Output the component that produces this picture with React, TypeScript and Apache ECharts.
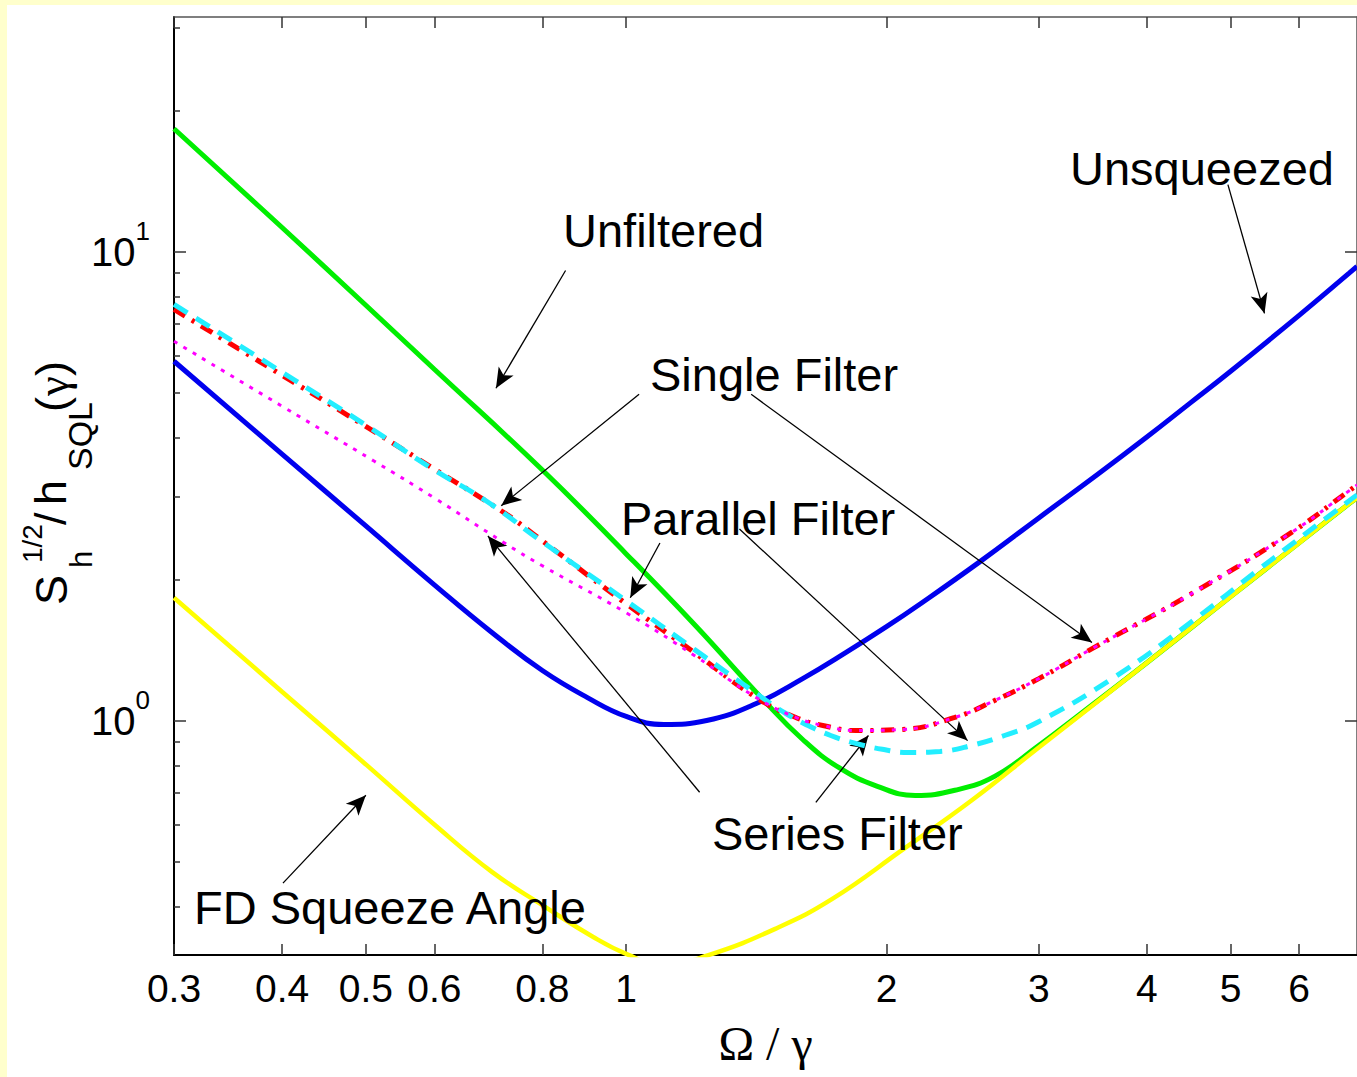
import React, { useEffect, useRef } from "react";
import * as echarts from "echarts";

// ---- axis ranges & ticks (real values, log axes) ----
const xMinVal = 0.3;
const xMaxVal = 7;
const yMinVal = Math.pow(10, -0.5);
const yMaxVal = Math.pow(10, 1.5);
const xTickValues = [0.3, 0.4, 0.5, 0.6, 0.8, 1, 2, 3, 4, 5, 6];
const yMajorTicks = [1, 10];
const yMinorTicks = [0.4, 0.5, 0.6, 0.7, 0.8, 0.9, 2, 3, 4, 5, 6, 7, 8, 9, 20, 30];

// ---- series (Omega/gamma, S_h^1/2 / h_SQL) ----
const unsqueezedOmega = [0.3, 0.4, 0.5, 0.6, 0.7, 0.8, 0.902, 1.0, 1.106, 1.239, 1.414, 1.6, 1.794, 2.0, 2.198, 2.563, 3.0, 3.501, 4.0, 4.488, 5.0, 6.0, 6.85, 7];
const unsqueezedNoise = [5.834, 3.699, 2.599, 1.947, 1.539, 1.278, 1.119, 1.02, 0.981, 1.0, 1.087, 1.228, 1.395, 1.585, 1.783, 2.179, 2.704, 3.337, 4.021, 4.75, 5.554, 7.31, 8.98, 9.291];

const unfilteredOmega = [0.3, 0.4, 0.5, 0.6, 0.8, 1.0, 1.2, 1.44, 1.6, 1.761, 1.952, 2.159, 2.399, 2.667, 3.0, 3.357, 4.0, 5.0, 6.0, 6.85, 7];
const unfilteredNoise = [18.27, 11.25, 7.68, 5.61, 3.42, 2.266, 1.6, 1.108, 0.911, 0.794, 0.724, 0.692, 0.71, 0.76, 0.884, 1.035, 1.328, 1.837, 2.392, 2.897, 2.982];

const fdOmega = [0.3, 0.4, 0.5, 0.6, 0.7, 0.8, 0.917, 1.0, 1.1, 1.245, 1.499, 1.733, 2.084, 2.51, 3.0, 3.357, 4.0, 5.0, 6.0, 6.85, 7];
const fdNoise = [1.827, 1.152, 0.806, 0.6, 0.475, 0.404, 0.345, 0.318, 0.301, 0.316, 0.362, 0.417, 0.529, 0.676, 0.876, 1.03, 1.328, 1.837, 2.392, 2.897, 2.982];

const singleOmega = [0.3, 0.4, 0.5, 0.6, 0.689, 0.8, 1.0, 1.2, 1.452, 1.53, 1.613, 1.724, 1.842, 1.978, 2.119, 2.306, 2.51, 2.738, 2.987, 3.662, 4.524, 5.401, 6.85, 7];
const singleNoise = [7.714, 5.528, 4.264, 3.42, 2.938, 2.404, 1.8, 1.416, 1.103, 1.035, 0.981, 0.929, 0.894, 0.868, 0.855, 0.859, 0.885, 0.929, 0.99, 1.234, 1.633, 2.106, 2.938, 3.026];

const parallelOmega = [0.3, 0.4, 0.468, 0.6, 0.726, 0.8, 1.0, 1.2, 1.414, 1.571, 1.688, 1.842, 2.084, 2.399, 2.667, 3.0, 3.474, 4.524, 5.893, 6.85, 7];
const parallelNoise = [7.527, 5.447, 4.567, 3.437, 2.757, 2.415, 1.774, 1.395, 1.119, 1.015, 0.976, 0.952, 0.957, 1.015, 1.103, 1.228, 1.43, 1.872, 2.524, 3.086, 3.178];

const seriesOmega = [0.3, 0.4, 0.511, 0.6, 0.726, 0.8, 1.0, 1.2, 1.414, 1.571, 1.688, 1.842, 2.084, 2.399, 2.667, 3.0, 3.474, 4.524, 5.893, 6.85, 7];
const seriesNoise = [6.435, 4.679, 3.574, 2.982, 2.38, 2.137, 1.697, 1.375, 1.119, 1.015, 0.976, 0.952, 0.957, 1.015, 1.103, 1.228, 1.43, 1.872, 2.524, 3.086, 3.178];

// ---- annotation arrows: [fromOmega, fromNoise, toOmega, toNoise] ----
const arrows = [
  [0.851, 9.11, 0.707, 5.11],
  [1.035, 4.96, 0.717, 2.87],
  [1.395, 4.96, 3.456, 1.466],
  [1.094, 2.39, 1.011, 1.827],
  [1.352, 2.56, 2.482, 0.906],
  [1.216, 0.703, 0.692, 2.475],
  [1.657, 0.669, 1.906, 0.929],
  [0.401, 0.45, 0.5, 0.693],
  [4.964, 13.89, 5.472, 7.38],
];

const annotationTexts = ["Unfiltered", "Single Filter", "Parallel Filter", "Series Filter", "FD Squeeze Angle", "Unsqueezed"];

const L = (v: number) => Math.log10(v);
const pts = (xs: number[], ys: number[]) => xs.map((x, i) => [L(x), L(ys[i])]);

const SANS = '"Liberation Sans", Arial, Helvetica, sans-serif';
const SERIF = '"Liberation Serif", "Times New Roman", serif';

export default function App() {
  const ref = useRef<HTMLDivElement>(null);
  useEffect(() => {
    const chart = echarts.init(ref.current as HTMLDivElement, null, { renderer: "svg" });
    const gridLeft = 174;
    const gridTop = 17;
    const gridWidth = 871.3 * (L(xMaxVal) - L(xMinVal));
    const gridHeight = 938;

    const xFmt = (v: number) => {
      const r = Math.pow(10, v);
      return r >= 0.95 ? String(Math.round(r)) : r.toFixed(1);
    };

    const baseLine = (name: string, data: number[][], color: string, width: number, type: any, z: number) => ({
      name,
      type: "line",
      data,
      showSymbol: false,
      smooth: 0.45,
      clip: true,
      z,
      lineStyle: { color, width, type, cap: "butt" },
      emphasis: { disabled: true },
    });

    const textPos: [number, number][] = [
      [563, 230],
      [650, 374],
      [621, 518],
      [712, 833],
      [194, 907],
      [1070, 168],
    ];

    const textEl = (t: string, x: number, y: number, size: number, family: string = SANS) => ({
      type: "text",
      x,
      y,
      z: 50,
      style: {
        text: t,
        fill: "#000",
        font: `${size}px ${family}`,
        textAlign: "left",
        textVerticalAlign: "middle",
        align: "left",
        verticalAlign: "middle",
      },
    });

    const tickLine = { color: "#333", width: 1.5 };

    const option: any = {
      animation: false,
      backgroundColor: "#ffffcc",
      grid: { left: gridLeft, top: gridTop, width: gridWidth, height: gridHeight, containLabel: false },
      xAxis: [
        {
          type: "value",
          position: "bottom",
          min: L(xMinVal),
          max: L(xMaxVal),
          axisLine: { show: true, onZero: false, lineStyle: { color: "#000", width: 2 } },
          axisTick: { show: true, inside: true, length: 11, customValues: xTickValues.map(L), lineStyle: tickLine },
          axisLabel: {
            customValues: xTickValues.map(L),
            formatter: xFmt,
            color: "#000",
            fontSize: 39,
            fontFamily: SANS,
            margin: 14,
          },
          splitLine: { show: false },
          name: "Ω / γ",
          nameLocation: "middle",
          nameGap: 64,
          nameTextStyle: { fontFamily: SERIF, fontSize: 48, color: "#000" },
        },
        {
          type: "value",
          position: "top",
          min: L(xMinVal),
          max: L(xMaxVal),
          axisLine: { show: true, onZero: false, lineStyle: { color: "#555", width: 1.5 } },
          axisTick: { show: true, inside: true, length: 11, customValues: xTickValues.map(L), lineStyle: tickLine },
          axisLabel: { show: false },
          splitLine: { show: false },
        },
      ],
      yAxis: [
        {
          type: "value",
          position: "left",
          min: L(yMinVal),
          max: L(yMaxVal),
          axisLine: { show: true, onZero: false, lineStyle: { color: "#000", width: 2 } },
          axisTick: { show: true, inside: true, length: 12, customValues: yMajorTicks.map(L), lineStyle: tickLine },
          axisLabel: {
            customValues: yMajorTicks.map(L),
            formatter: (v: number) => `{b|10}{s|${Math.round(v)}}`,
            margin: 24,
            rich: {
              b: { fontSize: 40, fontFamily: SANS, color: "#000", lineHeight: 40, verticalAlign: "middle" },
              s: { fontSize: 26, fontFamily: SANS, color: "#000", lineHeight: 26, padding: [0, 0, 41, 0], verticalAlign: "middle" },
            },
          },
          splitLine: { show: false },
        },
        {
          type: "value",
          position: "left",
          min: L(yMinVal),
          max: L(yMaxVal),
          axisLine: { show: false, onZero: false },
          axisTick: { show: true, inside: true, length: 6, customValues: yMinorTicks.map(L), lineStyle: tickLine },
          axisLabel: { show: false },
          splitLine: { show: false },
        },
        {
          type: "value",
          position: "right",
          min: L(yMinVal),
          max: L(yMaxVal),
          axisLine: { show: true, onZero: false, lineStyle: { color: "#555", width: 1.5 } },
          axisTick: { show: true, inside: true, length: 12, customValues: yMajorTicks.map(L), lineStyle: tickLine },
          axisLabel: { show: false },
          splitLine: { show: false },
        },
      ],
      series: [
        baseLine("Unfiltered", pts(unfilteredOmega, unfilteredNoise), "#00ee00", 5, "solid", 2),
        baseLine("FD Squeeze Angle", pts(fdOmega, fdNoise), "#ffff00", 4.5, "solid", 3),
        {
          ...baseLine("Unsqueezed", pts(unsqueezedOmega, unsqueezedNoise), "#0000ee", 5, "solid", 4),
          markLine: {
            silent: true,
            symbol: ["none", "arrow"],
            symbolSize: [13, 20],
            lineStyle: { color: "#000", width: 1.3, type: "solid" },
            itemStyle: { color: "#000" },
            label: { show: false },
            emphasis: { disabled: true },
            data: arrows.map((a) => [{ coord: [L(a[0]), L(a[1])] }, { coord: [L(a[2]), L(a[3])] }]),
          },
        },
        baseLine("Parallel Filter", pts(parallelOmega, parallelNoise), "#ff0000", 5, [13, 8, 3, 8], 5),
        baseLine("Single Filter", pts(singleOmega, singleNoise), "#22eeff", 5, [16, 10], 6),
        baseLine("Series Filter", pts(seriesOmega, seriesNoise), "#ff00ff", 3, [4, 7], 7),
      ],
      graphic: [
        { type: "rect", z: -100, shape: { x: 7, y: 5, width: 1400, height: 1100 }, style: { fill: "#ffffff" } },
        ...annotationTexts.map((t, i) => textEl(t, textPos[i][0], textPos[i][1], 47)),
        {
          type: "group",
          x: 0,
          y: 605,
          rotation: Math.PI / 2,
          children: [
            textEl("S", 0, 51, 45),
            textEl("1/2", 42, 32, 28),
            textEl("h", 37, 81, 31),
            textEl("/", 80, 50, 45),
            textEl("h", 100, 50, 45),
            textEl("SQL", 135, 80, 34),
            textEl("(", 193, 51, 45),
            textEl("γ", 209, 53, 45, SERIF),
            textEl(")", 229, 51, 45),
          ],
        },
      ],
    };
    chart.setOption(option);
    return () => chart.dispose();
  }, []);
  return <div ref={ref} style={{ position: "fixed", left: 0, top: 0, width: 1357, height: 1077 }} />;
}
